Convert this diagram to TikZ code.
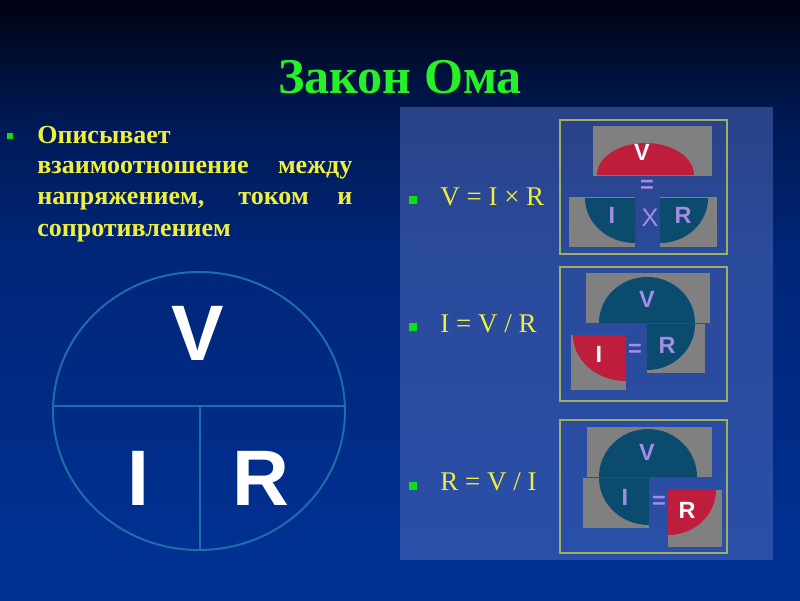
\documentclass[tikz,border=0pt]{standalone}
\usepackage{fontspec}
\setmainfont{Liberation Serif}
\setsansfont{Liberation Sans}
\usetikzlibrary{positioning}

\definecolor{bgtop}{RGB}{0,3,15}
\definecolor{bgupper}{RGB}{0,25,85}
\definecolor{bgmid}{RGB}{0,38,120}
\definecolor{bgbot}{RGB}{0,50,150}
\definecolor{titlegreen}{RGB}{40,240,40}
\definecolor{textyellow}{RGB}{240,240,60}
\definecolor{bulletgreen}{RGB}{20,220,20}
\definecolor{ringblue}{RGB}{30,110,170}
\definecolor{panelfill}{RGB}{85,110,190}
\definecolor{framegreen}{RGB}{160,175,95}
\definecolor{tilegray}{RGB}{128,128,128}
\definecolor{partred}{RGB}{190,30,60}
\definecolor{partteal}{RGB}{10,75,110}
\definecolor{lavender}{RGB}{165,140,230}

\pgfdeclareverticalshading{slidebg}{100bp}{color(0bp)=(bgbot); color(25bp)=(bgbot);
  color(54bp)=(bgmid); color(65bp)=(bgupper); color(75bp)=(bgtop); color(100bp)=(bgtop)}

\newcommand\descwidth{7.875cm}

\tikzset{
  titletext/.style={anchor=base, inner sep=0pt, text=titlegreen,
    font=\fontsize{35.6}{40}\selectfont\bfseries},
  desctext/.style={anchor=base west, inner sep=0pt, text=textyellow,
    font=\fontsize{18.5}{22}\selectfont\bfseries},
  eqtext/.style={anchor=base west, inner sep=0pt, text=textyellow,
    font=\fontsize{19.2}{22}\selectfont},
  sqbullet/.style={fill=bulletgreen, inner sep=0pt, minimum size=#1},
  ring/.style={draw=ringblue, line width=1.4pt},
  bigletter/.style={anchor=base, inner sep=0pt, text=white,
    font=\sffamily\bfseries\fontsize{56}{60}\selectfont},
  frame/.style={draw=framegreen, line width=1.2pt},
  tile/.style={fill=tilegray},
  boxletter/.style={anchor=base, inner sep=0pt, text=lavender,
    font=\sffamily\bfseries\fontsize{16.7}{20}\selectfont},
  boxsign/.style={inner sep=0pt, text=lavender,
    font=\sffamily\bfseries\fontsize{16.7}{20}\selectfont}
}

\begin{document}
\begin{tikzpicture}[x=0.025cm, y=-0.025cm]

\useasboundingbox (0,0) rectangle (800,600);
\shade[shading=slidebg] (0,0) rectangle (800,600);

% title
\node[titletext] (title) at (400,93) {Закон Ома};

% left column
\node[sqbullet=6*0.025cm] (lb) at (10,136) {};
\node[desctext] (d1) at (37,143) {Описывает};
\node[desctext] (d2) at (37,173) {\makebox[\descwidth][s]{взаимоотношение между}};
\node[desctext] (d3) at (37,204) {\makebox[\descwidth][s]{напряжением, током и}};
\node[desctext] (d4) at (37,236) {сопротивлением};

% the circle
\draw[ring] (199,411) ellipse [x radius=146, y radius=139];
\draw[ring] (53,406) -- (346,406);
\draw[ring] (200,406) -- (200,550);
\node[bigletter] (cV) at (198,360) {V};
\node[bigletter] (cI) at (138,505) {I};
\node[bigletter] (cR) at (261,505) {R};

% right panel
\fill[panelfill, fill opacity=0.5] (400,107) rectangle (773,560);

\node[sqbullet=8*0.025cm] (eb1) at (413,200) {};
\node[eqtext] (eq1) at (440,205) {V = I × R};
\node[sqbullet=8*0.025cm] (eb2) at (413,327) {};
\node[eqtext] (eq2) at (440,332) {I = V / R};
\node[sqbullet=8*0.025cm] (eb3) at (413,486) {};
\node[eqtext] (eq3) at (440,490) {R = V / I};

% V = I x R
\draw[frame] (560,120) rectangle (727,254);
\fill[tile] (593,126) rectangle (712,176);
\fill[partred] (597,175) arc[start angle=180, end angle=360, x radius=48.5, y radius=32] -- cycle;
\fill[tile] (569,197) rectangle (635,247);
\fill[partteal] (635,198) -- ++(-50,0) arc[start angle=180, end angle=90, x radius=50, y radius=45] -- cycle;
\fill[tile] (660,197) rectangle (717,247);
\fill[partteal] (660,198) -- ++(48,0) arc[start angle=0, end angle=90, x radius=48, y radius=45] -- cycle;
\node[boxletter, text=white] (v1) at (642,160) {V};
\node[boxsign] (e1) at (647,186) {=};
\node[boxletter] (i1) at (612,223) {I};
\node[boxletter, font=\sffamily\fontsize{18}{20}\selectfont] (x1) at (650,226) {X};
\node[boxletter] (r1) at (683,223) {R};

% I = V / R
\draw[frame] (560,267) rectangle (727,401);
\fill[tile] (586,273) rectangle (710,323);
\fill[partteal] (599,323) arc[start angle=180, end angle=360, x radius=48, y radius=46] -- cycle;
\fill[tile] (647,324) rectangle (705,373);
\fill[partteal] (647,324) -- ++(48,0) arc[start angle=0, end angle=90, x radius=48, y radius=46] -- cycle;
\fill[tile] (571,335) rectangle (626,390);
\fill[partred] (626,335) -- ++(-53,0) arc[start angle=180, end angle=90, x radius=53, y radius=46] -- cycle;
\node[boxletter] (v2) at (647,307) {V};
\node[boxletter] (r2) at (667,353) {R};
\node[boxletter, text=white] (i2) at (599,362) {I};
\node[boxsign] (e2) at (635,350) {=};

% R = V / I
\draw[frame] (560,420) rectangle (727,553);
\fill[tile] (587,427) rectangle (712,477);
\fill[partteal] (599,477) arc[start angle=180, end angle=360, x radius=49, y radius=48] -- cycle;
\fill[tile] (583,478) rectangle (649,528);
\fill[partteal] (649,478) -- ++(-50,0) arc[start angle=180, end angle=90, x radius=50, y radius=47] -- cycle;
\fill[tile] (668,490) rectangle (722,547);
\fill[partred] (668,490) -- ++(48,0) arc[start angle=0, end angle=90, x radius=48, y radius=45] -- cycle;
\node[boxletter] (v3) at (647,460) {V};
\node[boxletter] (i3) at (625,505) {I};
\node[boxsign] (e3) at (659,502) {=};
\node[boxletter, text=white] (r3) at (687,518) {R};

\end{tikzpicture}
\end{document}
